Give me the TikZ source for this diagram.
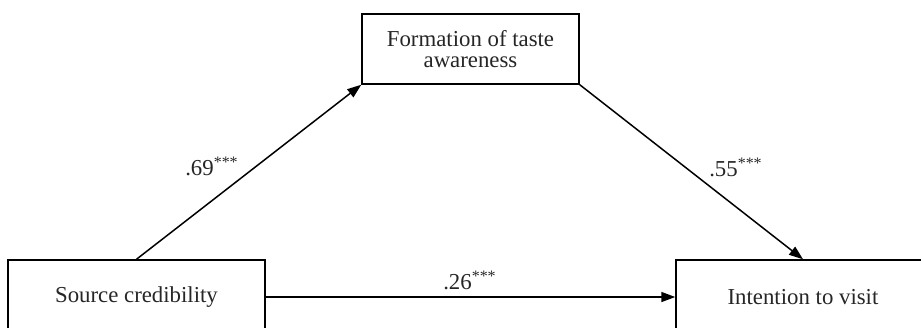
\documentclass[tikz,border=0pt]{standalone}
\usepackage{fontspec}
\setmainfont{Liberation Serif}
\usetikzlibrary{arrows.meta}
\begin{document}
\begin{tikzpicture}[x=0.5pt,y=-0.5pt,
  box/.style={draw=black,line width=0.75pt,rectangle,inner sep=0pt,align=center,
    font=\fontsize{11.4}{10.2}\selectfont,text=black!85},
  lbl/.style={font=\fontsize{11.4}{13}\selectfont,text=black!85,inner sep=0pt},
  conn/.style={draw=black,line width=0.75pt,-{Triangle[length=7pt,width=5pt]}}]
\path[use as bounding box,clip] (0,0) rectangle (921,327);
\node[box,minimum width=128.5pt,minimum height=37pt] (src) at (136.5,297) {Source credibility};
\node[box,minimum width=108.5pt,minimum height=35pt] (form) at (470.5,49) {Formation of taste\\awareness};
\node[box,minimum width=127pt,minimum height=37pt] (int) at (803,297) {Intention to visit};
\draw[conn] (src.north) -- (form.south west);
\draw[conn] (form.south east) -- (int.north);
\draw[conn] (src.east) -- (int.west);
\node[lbl] (l1) at (212,166) {.69\textsuperscript{***}};
\node[lbl] (l2) at (736,167) {.55\textsuperscript{***}};
\node[lbl] (l3) at (470,280) {.26\textsuperscript{***}};
\end{tikzpicture}
\end{document}
